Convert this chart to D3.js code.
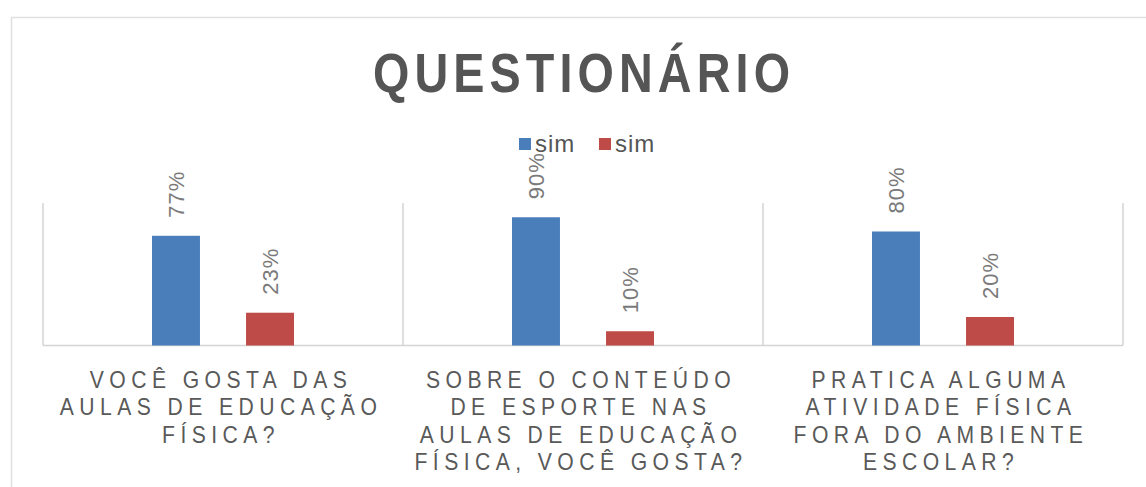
<!DOCTYPE html>
<html>
<head>
<meta charset="utf-8">
<script src="https://cdn.jsdelivr.net/npm/d3@7"></script>
<style>
  body { margin: 0; background: #fff; }
  text { font-family: "Liberation Sans", Arial, sans-serif; }
</style>
</head>
<body>
<div id="chart"></div>
<script>
// données du graphique
const categories = ["c1", "c2", "c3"];
const categoryLines = [
    ["VOCÊ GOSTA DAS", "AULAS DE EDUCAÇÃO", "FÍSICA?"],
    ["SOBRE O CONTEÚDO", "DE ESPORTE NAS", "AULAS DE EDUCAÇÃO", "FÍSICA, VOCÊ GOSTA?"],
    ["PRATICA ALGUMA", "ATIVIDADE FÍSICA", "FORA DO AMBIENTE", "ESCOLAR?"]
];
const seriesNames = ["sim", "sim"];
const serie1 = [0.77, 0.90, 0.80];
const serie2 = [0.23, 0.10, 0.20];
const colors = ["#4a7ebb", "#be4b48"];

const width = 1146, height = 487;
const margin = { top: 203, right: 23, bottom: 141.5, left: 43 };

let svg = d3.select("#chart").append("svg")
    .attr("width", width)
    .attr("height", height);

// cadre du graphique
svg.append("rect")
    .attr("x", 11.5).attr("y", 17.5)
    .attr("width", 1200).attr("height", 600)
    .attr("fill", "none")
    .attr("stroke", "#e0e0e0")
    .attr("stroke-width", 1.5);

// titre (police un peu condensée)
svg.append("text")
    .attr("transform", "translate(584,92) scale(0.85,1)")
    .attr("text-anchor", "middle")
    .style("font-weight", "bold")
    .style("font-size", "55px")
    .style("letter-spacing", "6px")
    .attr("fill", "#555")
    .text("QUESTIONÁRIO");

let x0 = d3.scaleBand()
    .domain(categories)
    .range([margin.left, width - margin.right]);

let x1 = d3.scaleBand()
    .domain([0, 1])
    .range([109, 251])
    .paddingInner(0.49);

let y = d3.scaleLinear()
    .domain([0, 1])
    .range([height - margin.bottom, margin.top]);

// lignes de séparation
let bounds = categories.map(c => x0(c)).concat([x0.range()[1]]);
svg.append("g").selectAll("line")
    .data(bounds)
    .enter().append("line")
    .attr("x1", d => d).attr("x2", d => d)
    .attr("y1", y(1)).attr("y2", y(0))
    .attr("stroke", "#d4d4d4")
    .attr("stroke-width", 1.5);

svg.append("line")
    .attr("x1", x0.range()[0]).attr("x2", x0.range()[1])
    .attr("y1", y(0)).attr("y2", y(0))
    .attr("stroke", "#d4d4d4")
    .attr("stroke-width", 1.5);

// barres
const series = [serie1, serie2];
series.forEach((vals, s) => {
    let g = svg.append("g");
    g.selectAll("rect")
        .data(vals)
        .enter().append("rect")
        .attr("x", (d, i) => x0(categories[i]) + x1(s))
        .attr("y", d => y(d))
        .attr("width", x1.bandwidth())
        .attr("height", d => y(0) - y(d))
        .attr("fill", colors[s]);

    // étiquettes verticales
    g.selectAll("text")
        .data(vals)
        .enter().append("text")
        .attr("transform", (d, i) => {
            let cx = x0(categories[i]) + x1(s) + x1.bandwidth() / 2;
            return `translate(${cx},${y(d) - 18}) rotate(-90)`;
        })
        .attr("dy", "0.35em")
        .attr("text-anchor", "start")
        .style("font-size", "22px")
        .style("letter-spacing", "1px")
        .attr("fill", "#7a7a7a")
        .text(d => Math.round(d * 100) + "%");
});

// légende
let legend = svg.append("g").attr("transform", "translate(519,144)");
seriesNames.forEach((name, i) => {
    let lg = legend.append("g").attr("transform", `translate(${i * 80},0)`);
    lg.append("rect")
        .attr("x", 0).attr("y", -6)
        .attr("width", 12).attr("height", 12)
        .attr("fill", colors[i]);
    lg.append("text")
        .attr("x", 16)
        .attr("y", 8)
        .style("font-size", "24px")
        .style("letter-spacing", "1px")
        .attr("fill", "#555")
        .text(name);
});

// étiquettes des catégories
const ls = 5.9;
categories.forEach((c, i) => {
    let cx = x0(c) + x0.bandwidth() / 2 - 2;
    let t = svg.append("text")
        .attr("transform", `translate(${cx},388) scale(0.92,1)`)
        .attr("text-anchor", "middle")
        .style("font-size", "23px")
        .style("letter-spacing", ls + "px")
        .attr("fill", "#595959");
    categoryLines[i].forEach((line, j) => {
        t.append("tspan")
            .attr("x", 0)
            .attr("dy", j === 0 ? 0 : 27.5)
            .text(line);
    });
});
</script>
</body>
</html>
